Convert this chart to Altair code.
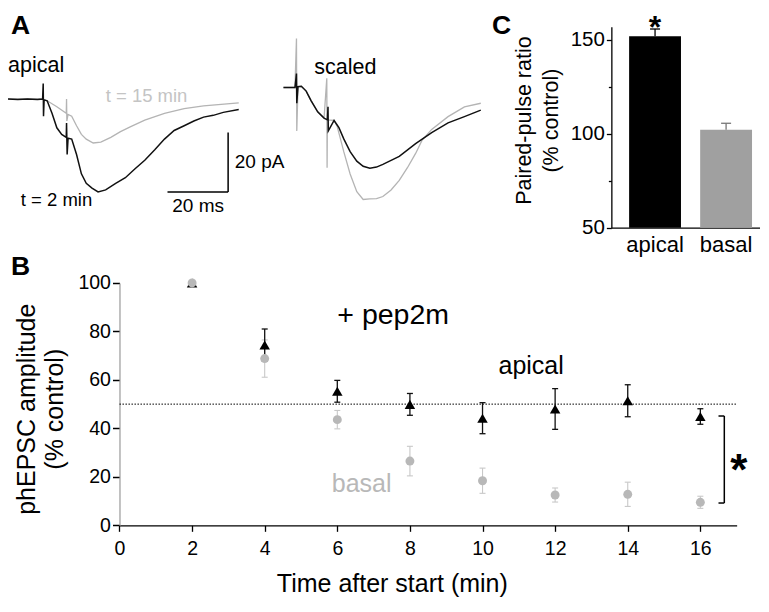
import altair as alt
import pandas as pd

FONT = "Liberation Sans"
W, H = 752, 590
SX, SY, OY = 752 / 769, 0.958, 0


def cx(x):
    return round(x * SX, 2)


def cy(y):
    return round((y - OY) * SY, 2)


# ---------------- Panel A: traces (time in ms, current in pA) ----------------
left_black_t = [-11.6, -8.4, -5.2, -1.9, -0.2, 0.0, 0.1, 0.3, 1.3, 2.9, 4.5, 6.1, 7.6,
                7.7, 7.9, 8.2, 9.4, 11.0, 12.6, 14.2, 16.1, 18.1, 20.6, 23.9, 27.1, 30.3,
                33.5, 36.8, 40.0, 43.2, 46.5, 49.7, 52.9, 56.1, 59.4, 64.5]
left_black_i = [0, -0.2, 0, -0.2, 0, 5.2, -5.8, -0.3, -0.6, -4.8, -9.7, -11.9, -12.9,
                -8.1, -18.7, -13.2, -13.5, -18.7, -25.2, -28.4, -30.0, -31.3, -30.6, -28.4,
                -26.5, -23.5, -20.6, -17.1, -13.5, -10.6, -9.0, -7.4, -6.1, -5.5, -4.5, -3.5]

left_gray_t = [-11.6, -0.2, 1.3, 4.5, 7.6, 7.7, 7.8, 8.2, 9.4, 11.0, 12.6, 14.2, 16.5,
               19.0, 22.3, 25.5, 28.7, 33.5, 40.0, 46.5, 52.9, 64.5]
left_gray_i = [0, 0, -0.6, -2.6, -4.8, 0, -7.4, -5.2, -5.8, -9.0, -11.9, -13.5, -14.8,
               -14.5, -12.9, -11.0, -9.4, -7.1, -4.8, -3.2, -2.3, -1.3]

right_black_t = [-4.3, -0.5, 0.0, 0.1, 0.5, 1.6, 3.2, 4.8, 7.0, 9.1, 10.2, 10.4, 10.5,
                 12.4, 14.0, 15.6, 17.7, 19.9, 22.0, 24.2, 26.4, 28.5, 33.9, 39.3, 44.6,
                 50.0, 55.4, 60.8]
right_black_i = [0, 0, 4.7, -5.3, 0.3, 0.4, -1.2, -4.4, -8.2, -10.3, -10.9, -6.5, -14.6,
                 -11.1, -13.5, -17.3, -21.6, -24.8, -26.5, -27.2, -26.8, -25.9, -23.2,
                 -18.9, -15.2, -11.9, -9.8, -7.6]

right_gray_t = [-4.3, -0.5, 0.0, 0.1, 0.5, 1.6, 3.2, 4.8, 7.0, 9.1, 10.0, 10.1, 10.2,
                12.4, 13.4, 15.6, 17.7, 19.9, 22.0, 24.2, 26.4, 28.5, 31.2, 33.9, 36.6,
                39.3, 41.4, 44.6, 50.0, 55.4, 60.8]
right_gray_i = [0, 0, 16.5, -14.6, 0.3, 0.4, -1.2, -4.4, -8.2, -10.3, 3.1, -27.0, -10.9,
                -11.1, -13.0, -21.6, -29.1, -35.1, -37.7, -37.5, -37.4, -36.7, -34.5,
                -31.3, -27.0, -22.2, -17.8, -14.1, -9.8, -6.5, -5.3]

# scale bar: 20 ms x 20 pA
bar_t = [41.0, 61.0]
bar_t2 = [61.0, 61.0]
bar_i = [-31.3, -31.3]
bar_i2 = [-31.3, -11.3]

# ---------------- Panel B: time course ----------------
times = [2, 4, 6, 8, 10, 12, 14, 16]
apical_mean = [100, 74.4, 55.3, 49.9, 44.2, 48.0, 51.4, 44.9]
apical_sem = [0, 6.6, 4.5, 4.5, 6.4, 8.4, 6.6, 3.2]
basal_mean = [100, 68.8, 43.6, 26.5, 18.4, 12.5, 12.8, 9.5]
basal_sem = [0, 7.7, 3.8, 6.1, 5.2, 2.9, 5.0, 2.5]
b_xticks = [0, 2, 4, 6, 8, 10, 12, 14, 16]
b_yticks = [0, 20, 40, 60, 80, 100]
ref_level = 50

# ---------------- Panel C: paired-pulse ratio ----------------
cats = ["apical", "basal"]
ppr_mean = [152.0, 102.2]
ppr_sem = [3.8, 3.4]
c_yticks = [50, 75, 100, 125, 150]

# ================= scales =================
ALX = alt.Scale(domain=[-12, 65], range=[cx(36 - 37.2), cx(36 + 3.1 * 65)], nice=False, zero=False)
ALY = alt.Scale(domain=[-40, 30], range=[cy(95 + 124), cy(95 - 93)], nice=False, zero=False)
ARX = alt.Scale(domain=[-5, 62], range=[cx(295 - 15.5), cx(295 + 3.1 * 62)], nice=False, zero=False)
ARY = alt.Scale(domain=[-40, 30], range=[cy(83 + 124), cy(83 - 93)], nice=False, zero=False)
BXS = alt.Scale(domain=[0, 17], range=[cx(114), cx(114 + 17 * 37.125)], nice=False, zero=False)
BYS = alt.Scale(domain=[0, 100], range=[cy(540), cy(287)], nice=False, zero=False)
CXS = alt.Scale(domain=cats, range=[cx(617), cx(779)], paddingInner=0.27, paddingOuter=0.25)
CYS = alt.Scale(domain=[50, 157], range=[cy(229.3), cy(229.3 - 107 * 1.96)], nice=False, zero=False)

BXA = alt.Axis(orient="bottom", offset=-(H - cy(540)), values=b_xticks,
               title="Time after start (min)", titleFontSize=25, titleFontWeight="normal",
               titleColor="black", titleX=cx(392.5), titleY=cy(609) - cy(540),
               titleBaseline="alphabetic", titleAlign="center",
               labelFontSize=19.5, labelColor="black", labelPadding=8, labelFlush=False,
               tickColor="black", tickSize=6, tickWidth=1.3,
               domainColor="black", domainWidth=1.3, grid=False)
BYA = alt.Axis(orient="left", offset=-cx(114), values=b_yticks,
               title=["phEPSC amplitude", "(% control)"], titleFontSize=25,
               titleFontWeight="normal", titleColor="black", titleLineHeight=28,
               titleAngle=270, titleX=-93, titleY=cy(412) + 6,
               titleBaseline="middle", titleAlign="center",
               labelFontSize=19.5, labelColor="black", labelPadding=2, labelFlush=False,
               tickColor="black", tickSize=7, tickWidth=1.5,
               domainColor="#999999", domainWidth=1.2, grid=False)
CXA = alt.Axis(orient="bottom", offset=-(H - cy(229.3)), title=None, ticks=False,
               labelAngle=0, labelFontSize=22, labelColor="black", labelPadding=7,
               domainColor="black", domainWidth=1.3, grid=False)
CYA = alt.Axis(orient="left", offset=-cx(617), values=c_yticks,
               labelExpr="datum.value % 50 === 0 ? datum.label : ''",
               tickSize={"condition": {"test": "datum.value % 50 !== 0", "value": 3}, "value": 5},
               tickColor="black", tickWidth=1.3,
               title=["Paired-pulse ratio", "(% control)"], titleFontSize=21.5,
               titleFontWeight="normal", titleColor="black", titleLineHeight=27,
               titleAngle=270, titleX=-87, titleY=cy(117),
               titleBaseline="middle", titleAlign="center",
               labelFontSize=20.5, labelColor="black", labelPadding=2,
               domainColor="black", domainWidth=1.3, grid=False)


def trace_df(t, i):
    return pd.DataFrame({"t": t, "pA": i, "k": list(range(len(t)))})


def trace(t, i, sx, sy, color, width):
    return alt.Chart(trace_df(t, i)).mark_line(color=color, strokeWidth=width).encode(
        x=alt.X("t:Q", scale=sx, axis=None),
        y=alt.Y("pA:Q", scale=sy, axis=None),
        order=alt.Order("k:Q"),
    )


def text_layer(rows, xfield_enc, yfield_enc, **kw):
    df = pd.DataFrame(rows, columns=["label", "xv", "yv"])
    return alt.Chart(df).mark_text(font=FONT, baseline="alphabetic", **kw).encode(
        x=xfield_enc("xv"), y=yfield_enc("yv"), text="label:N")


def alx(f):
    return alt.X(f"{f}:Q", scale=ALX, axis=None)


def aly(f):
    return alt.Y(f"{f}:Q", scale=ALY, axis=None)


def arx(f):
    return alt.X(f"{f}:Q", scale=ARX, axis=None)


def ary(f):
    return alt.Y(f"{f}:Q", scale=ARY, axis=None)


def bx(f):
    return alt.X(f"{f}:Q", scale=BXS, axis=BXA)


def by(f):
    return alt.Y(f"{f}:Q", scale=BYS, axis=BYA)


def cxe(f):
    return alt.X(f"{f}:N", scale=CXS, axis=CXA, sort=cats)


def cye(f):
    return alt.Y(f"{f}:Q", scale=CYS, axis=CYA)


# ---------------- Panel A layers ----------------
sb_df = pd.DataFrame({"t": bar_t, "t2": bar_t2, "pA": bar_i, "pA2": bar_i2})
scalebar = alt.Chart(sb_df).mark_rule(color="black", strokeWidth=1.5).encode(
    x=alx("t"), x2="t2:Q", y=aly("pA"), y2="pA2:Q")

A_left = alt.layer(
    trace(left_gray_t, left_gray_i, ALX, ALY, "#b4b4b4", 1.3),
    trace(left_black_t, left_black_i, ALX, ALY, "#111111", 1.5),
    scalebar,
    text_layer([["apical", -11.6, 9.1]], alx, aly, fontSize=21.5, align="left", color="black"),
    text_layer([["t = 2 min", -7.4, -36.0]], alx, aly, fontSize=18.5, align="left", color="black"),
    text_layer([["t = 15 min", 20.6, -0.9]], alx, aly, fontSize=18.5, align="left", color="#c4c4c4"),
    text_layer([["20 pA", 63.2, -23.1]], alx, aly, fontSize=19, align="left", color="black"),
    text_layer([["20 ms", 51.1, -38.2]], alx, aly, fontSize=19, align="center", color="black"),
    text_layer([["A", -10.6, 22.0]], alx, aly, fontSize=26.5, fontWeight="bold", align="left", color="black"),
)

A_right = alt.layer(
    trace(right_gray_t, right_gray_i, ARX, ARY, "#b4b4b4", 1.3),
    trace(right_black_t, right_black_i, ARX, ARY, "#111111", 1.5),
    text_layer([["scaled", 16.1, 4.7]], arx, ary, fontSize=21.5, align="center", color="black"),
    text_layer([["C", 64.5, 18.1]], arx, ary, fontSize=26.5, fontWeight="bold", align="left", color="black"),
)

# ---------------- Panel B layers ----------------
ap_df = pd.DataFrame({"t": times, "m": apical_mean, "s": apical_sem})
ba_df = pd.DataFrame({"t": times, "m": basal_mean, "s": basal_sem})


def err_layers(df, color, width, cap):
    base = alt.Chart(df).transform_filter("datum.s > 0").transform_calculate(
        lo="datum.m - datum.s", hi="datum.m + datum.s")
    rule = base.mark_rule(color=color, strokeWidth=width).encode(
        x=bx("t"), y=by("lo"), y2="hi:Q")
    caps = base.transform_fold(["lo", "hi"], as_=["end", "v"]).mark_tick(
        orient="horizontal", size=cap, thickness=width, color=color, opacity=1).encode(
        x=bx("t"), y=by("v"))
    return [rule, caps]


ref_df = pd.DataFrame({"t": [0], "t2": [17], "v": [ref_level]})
ref_line = alt.Chart(ref_df).mark_rule(color="black", strokeWidth=1, strokeDash=[1.5, 1.5]).encode(
    x=bx("t"), x2="t2:Q", y=by("v"))

br_df = pd.DataFrame({"t": [16.66, 16.50, 16.50], "t2": [16.66, 16.66, 16.66],
                      "v": [9.2, 45.1, 9.2], "v2": [45.1, 45.1, 9.2]})
bracket = alt.Chart(br_df).mark_rule(color="black", strokeWidth=1.5).encode(
    x=bx("t"), x2="t2:Q", y=by("v"), y2="v2:Q")

triangles = alt.Chart(ap_df).mark_point(shape="triangle-up", filled=True, size=110,
                                        color="black", opacity=1).encode(x=bx("t"), y=by("m"))
circles = alt.Chart(ba_df).mark_circle(size=80, color="#b8b8b8", opacity=1).encode(
    x=bx("t"), y=by("m"))

B = alt.layer(
    ref_line,
    *err_layers(ba_df, "#c8c8c8", 1.1, 6),
    *err_layers(ap_df, "#111111", 1.3, 6),
    triangles,
    circles,
    bracket,
    text_layer([["+ pep2m", 7.54, 83.0]], bx, by, fontSize=28.5, align="center", color="black"),
    text_layer([["apical", 11.34, 62.6]], bx, by, fontSize=25, align="center", color="black"),
    text_layer([["basal", 6.67, 13.8]], bx, by, fontSize=25, align="center", color="#b8b8b8"),
    text_layer([["*", 17.06, 16.5]], bx, by, fontSize=44, fontWeight="bold", align="center", color="black"),
    text_layer([["B", -2.99, 103.2]], bx, by, fontSize=26.5, fontWeight="bold", align="left", color="black"),
)

# ---------------- Panel C layers ----------------
c_df = pd.DataFrame({"cat": cats, "m": ppr_mean, "s": ppr_sem})
c_base = alt.Chart(c_df).transform_calculate(hi="datum.m + datum.s")
bars = c_base.mark_bar().encode(
    x=cxe("cat"), y=cye("m"), y2=alt.datum(50),
    color=alt.Color("cat:N", scale=alt.Scale(domain=cats, range=["#000000", "#a0a0a0"]), legend=None))
c_err = c_base.mark_rule(strokeWidth=1.3).encode(
    x=cxe("cat"), y=cye("m"), y2="hi:Q",
    color=alt.condition(alt.datum.cat == "apical", alt.value("black"), alt.value("#777777")))
c_cap = c_base.mark_tick(orient="horizontal", size=10, thickness=1.3, opacity=1).encode(
    x=cxe("cat"), y=cye("hi"),
    color=alt.condition(alt.datum.cat == "apical", alt.value("black"), alt.value("#777777")))
c_star = text_layer([["*", "apical", 151.2]], cxe, cye, fontSize=32, fontWeight="bold",
                    align="center", color="black")

C = alt.layer(bars, c_err, c_cap, c_star)

chart = alt.layer(A_left, A_right, B, C).resolve_scale(
    x="independent", y="independent", color="independent"
).properties(
    width=W, height=H, padding=0, autosize=alt.AutoSizeParams(type="none")
).configure(font=FONT).configure_view(stroke=None)

chart.save("out.html", embed_options={"renderer": "svg", "actions": False})
